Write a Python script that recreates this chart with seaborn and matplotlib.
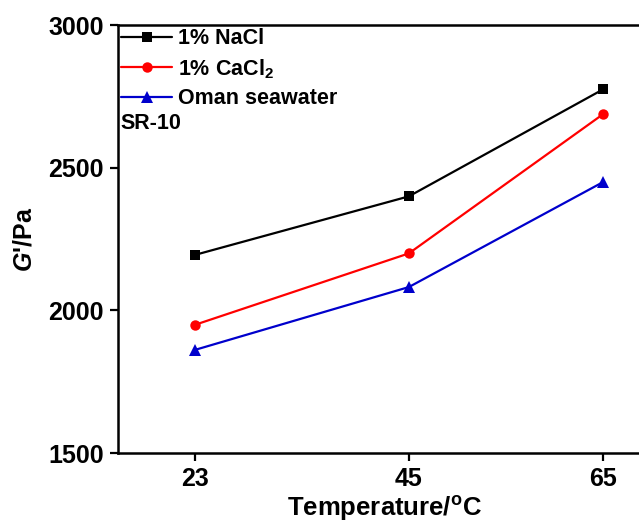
import matplotlib
matplotlib.use("Agg")
import matplotlib.pyplot as plt
import seaborn as sns
import pandas as pd

temperature = [23, 45, 65]
nacl = [2195, 2400, 2775]
cacl2 = [1950, 2200, 2688]
seawater = [1862, 2082, 2450]
series_names = ["1% NaCl", "1% CaCl$_\\mathbf{2}$", "Oman seawater"]
y_ticks = [1500, 2000, 2500, 3000]

sns.set_theme(style="ticks")
plt.rcParams['font.family'] = ['Liberation Sans', 'DejaVu Sans']
plt.rcParams['font.weight'] = 'bold'
plt.rcParams['text.color'] = 'black'
plt.rcParams['axes.labelcolor'] = 'black'
plt.rcParams['xtick.color'] = 'black'
plt.rcParams['ytick.color'] = 'black'
plt.rcParams['mathtext.fontset'] = 'custom'
plt.rcParams['mathtext.rm'] = 'Liberation Sans:bold'
plt.rcParams['mathtext.bf'] = 'Liberation Sans:bold'
plt.rcParams['mathtext.it'] = 'Liberation Sans:italic:bold'
plt.rcParams['mathtext.bfit'] = 'Liberation Sans:italic:bold'

df = pd.DataFrame({
    "T": temperature * 3,
    "G": nacl + cacl2 + seawater,
    "series": [series_names[0]] * 3 + [series_names[1]] * 3 + [series_names[2]] * 3,
})

fig = plt.figure(figsize=(6.39, 5.25), dpi=100)
ax = fig.add_axes([0.184, 0.137, 0.86, 0.815])

palette = {series_names[0]: "#000000", series_names[1]: "#ff0000", series_names[2]: "#0000cc"}
markers = {series_names[0]: "s", series_names[1]: "o", series_names[2]: "^"}
sizes = {series_names[0]: 6.5, series_names[1]: 7.5, series_names[2]: 8.5}

for name in series_names:
    sub = df[df["series"] == name]
    sns.lineplot(data=sub, x="T", y="G", color=palette[name], marker=markers[name],
                 markersize=sizes[name], markeredgewidth=0, linewidth=1.6,
                 label=name, ax=ax, legend=False)

ax.set_xlim(15, 71.6)
ax.set_ylim(1500, 3000)
ax.set_xticks(temperature)
ax.set_yticks(y_ticks)
ax.tick_params(axis='both', direction='out', length=6, width=1.6, labelsize=18, pad=4)
for lab in ax.get_xticklabels() + ax.get_yticklabels():
    lab.set_fontweight('bold')
for s in ax.spines.values():
    s.set_linewidth(1.8)
    s.set_color('black')

ax.set_xlabel("Temperature/$^\\mathbf{o}$C", fontsize=18.5, fontweight='bold')
ax.xaxis.set_label_coords(0.485, -0.095)
ax.set_ylabel("$\\mathbfit{G}$'/Pa", fontsize=18, fontweight='bold', labelpad=8)

leg = ax.legend(loc='upper left', frameon=False, fontsize=15.5, handlelength=2.4,
                handletextpad=0.25, labelspacing=0.35, borderaxespad=0.0,
                borderpad=0.15)
for t in leg.get_texts():
    t.set_fontweight('bold')

ax.text(0.005, 0.771, "SR-10", transform=ax.transAxes, fontsize=15.5,
        fontweight='bold', ha='left', va='center')

fig.savefig("out.png", dpi=100)
